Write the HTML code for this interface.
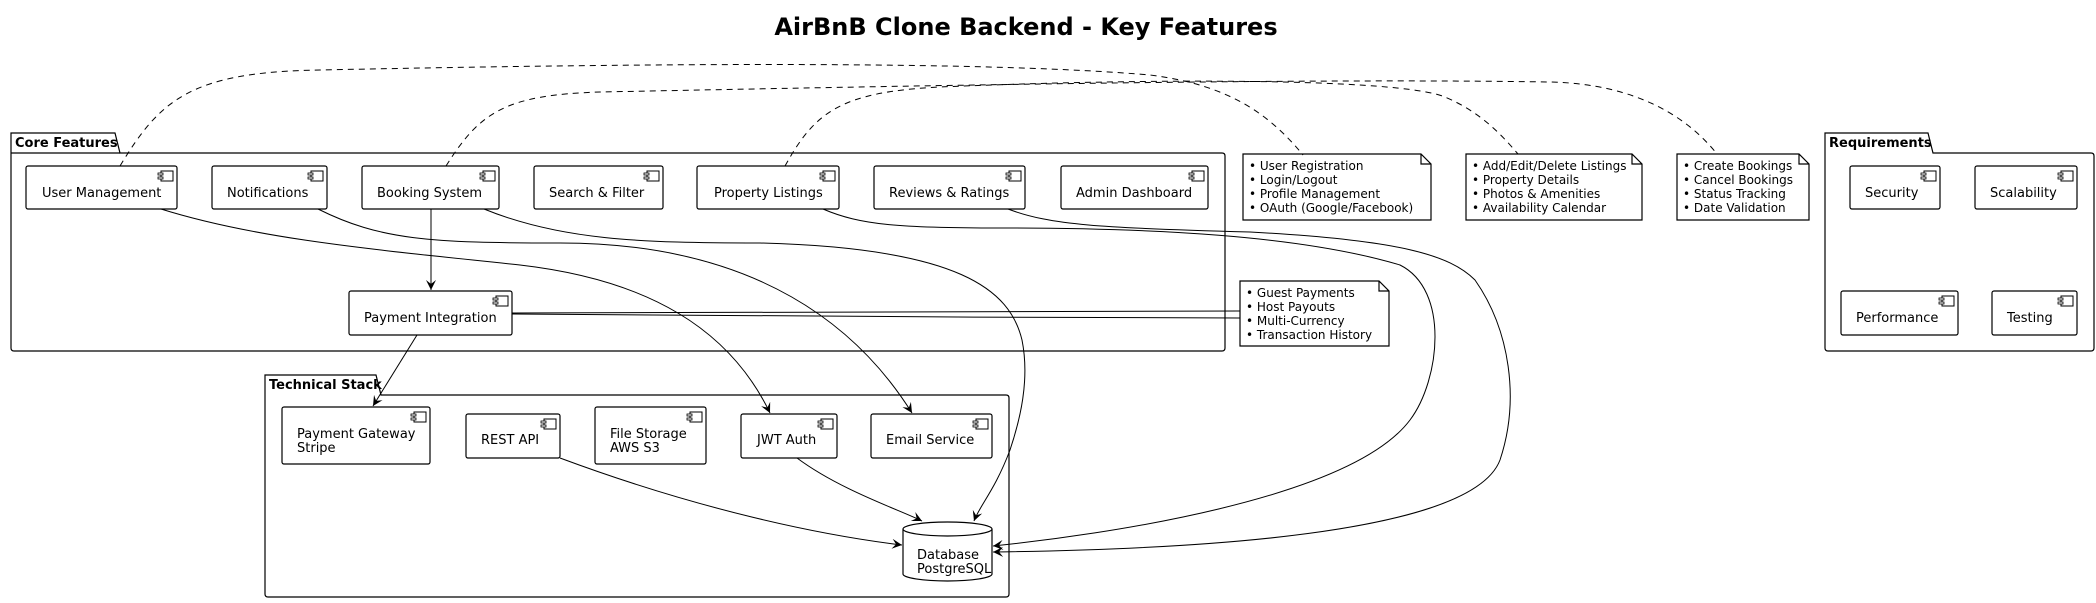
<!DOCTYPE html>
<html><head><meta charset="utf-8"><style>
html,body{margin:0;padding:0;background:#fff;}
svg{display:block;font-family:"DejaVu Sans","Liberation Sans",sans-serif;}
.t{font-size:13px;fill:#000;}
.n{font-size:12px;fill:#000;}
.pk{font-size:13px;font-weight:bold;fill:#000;}
</style></head><body>
<svg width="2096" height="603" viewBox="0 0 2096 603" xmlns="http://www.w3.org/2000/svg">
<defs>
<marker id="a" markerWidth="12" markerHeight="12" refX="10" refY="5" orient="auto" markerUnits="userSpaceOnUse">
<path d="M0,0 L10,5 L0,10 L4,5 Z" fill="#000"/></marker>
<g id="ic"><rect x="0" y="0" width="12" height="10" fill="#fff" stroke="#000" stroke-width="1"/><rect x="-3" y="2" width="5" height="2" fill="#fff" stroke="#000" stroke-width="0.8"/><rect x="-3" y="6" width="5" height="2" fill="#fff" stroke="#000" stroke-width="0.8"/></g>
</defs>
<text x="1026" y="35" text-anchor="middle" font-size="24" font-weight="bold">AirBnB Clone Backend - Key Features</text>

<!-- packages -->
<g fill="none" stroke="#000" stroke-width="1.2">
<path d="M11,153 L11,133 L115,133 L120,153 L1222,153 Q1225,153 1225,156 L1225,348 Q1225,351 1222,351 L14,351 Q11,351 11,348 Z"/>
<path d="M11,153 L120,153"/>
<path d="M1825,153 L1825,133 L1928,133 L1933,153 L2091,153 Q2094,153 2094,156 L2094,348 Q2094,351 2091,351 L1828,351 Q1825,351 1825,348 Z"/>
<path d="M265,395 L265,375 L376,375 L381,395 L1006,395 Q1009,395 1009,398 L1009,594 Q1009,597 1006,597 L268,597 Q265,597 265,594 Z"/>
</g>
<text class="pk" x="15" y="147">Core Features</text>
<text class="pk" x="1829" y="147">Requirements</text>
<text class="pk" x="269" y="389">Technical Stack</text>

<!-- solid connectors -->
<g fill="none" stroke="#000" stroke-width="1">
<path d="M431,209 L431,290" marker-end="url(#a)"/>
<path d="M417,335 L373,406" marker-end="url(#a)"/>
<path d="M161,209 C260,240 380,250 520,265 C650,280 730,330 770,413" marker-end="url(#a)"/>
<path d="M318,209 C380,240 430,243 560,243 C760,243 860,330 912,413" marker-end="url(#a)"/>
<path d="M484,209 C560,240 640,243 760,243 C960,248 1010,290 1022,340 C1030,380 1020,420 1010,450 C995,490 980,505 974,521" marker-end="url(#a)"/>
<path d="M823,209 C860,225 900,228 1000,228 C1150,228 1300,235 1400,265 C1450,290 1440,380 1410,420 C1350,500 1100,535 993,546" marker-end="url(#a)"/>
<path d="M1008,209 C1050,225 1100,228 1250,232 C1400,240 1450,255 1475,280 C1510,330 1520,400 1500,460 C1470,540 1150,550 993,552" marker-end="url(#a)"/>
<path d="M512,313 L1240,311"/>
<path d="M512,314 C700,315 1000,318 1240,318"/>
<path d="M560,458 C700,510 820,535 902,545" marker-end="url(#a)"/>
<path d="M797,458 C840,490 900,510 922,521" marker-end="url(#a)"/>
</g>

<!-- components -->
<g fill="#fff" stroke="#000" stroke-width="1.2">
<rect x="26" y="166" width="151" height="43" rx="2"/>
<rect x="212" y="166" width="115" height="43" rx="2"/>
<rect x="362" y="166" width="137" height="43" rx="2"/>
<rect x="534" y="166" width="129" height="43" rx="2"/>
<rect x="697" y="166" width="142" height="43" rx="2"/>
<rect x="874" y="166" width="151" height="43" rx="2"/>
<rect x="1061" y="166" width="147" height="43" rx="2"/>
<rect x="349" y="291" width="163" height="44" rx="2"/>
<rect x="1850" y="166" width="90" height="43" rx="2"/>
<rect x="1975" y="166" width="102" height="43" rx="2"/>
<rect x="1841" y="291" width="117" height="44" rx="2"/>
<rect x="1992" y="291" width="85" height="44" rx="2"/>
<rect x="282" y="407" width="148" height="57" rx="2"/>
<rect x="466" y="414" width="94" height="44" rx="2"/>
<rect x="595" y="407" width="111" height="57" rx="2"/>
<rect x="741" y="414" width="96" height="44" rx="2"/>
<rect x="871" y="414" width="121" height="44" rx="2"/>
</g>
<use href="#ic" x="161" y="171"/><use href="#ic" x="311" y="171"/><use href="#ic" x="483" y="171"/>
<use href="#ic" x="647" y="171"/><use href="#ic" x="823" y="171"/><use href="#ic" x="1009" y="171"/>
<use href="#ic" x="1192" y="171"/><use href="#ic" x="496" y="296"/>
<use href="#ic" x="1924" y="171"/><use href="#ic" x="2061" y="171"/><use href="#ic" x="1942" y="296"/><use href="#ic" x="2061" y="296"/>
<use href="#ic" x="414" y="412"/><use href="#ic" x="544" y="419"/><use href="#ic" x="690" y="412"/><use href="#ic" x="821" y="419"/><use href="#ic" x="976" y="419"/>

<!-- database -->
<g fill="#fff" stroke="#000" stroke-width="1.2">
<path d="M903,529 L903,574 A44.5,7 0 0 0 992,574 L992,529"/>
<ellipse cx="947.5" cy="529" rx="44.5" ry="7"/>
</g>

<g class="t">
<text x="42" y="197">User Management</text>
<text x="227" y="197">Notifications</text>
<text x="377" y="197">Booking System</text>
<text x="549" y="197">Search &amp; Filter</text>
<text x="714" y="197">Property Listings</text>
<text x="889" y="197">Reviews &amp; Ratings</text>
<text x="1076" y="197">Admin Dashboard</text>
<text x="364" y="322">Payment Integration</text>
<text x="1865" y="197">Security</text>
<text x="1990" y="197">Scalability</text>
<text x="1856" y="322">Performance</text>
<text x="2007" y="322">Testing</text>
<text x="297" y="438">Payment Gateway</text>
<text x="297" y="452">Stripe</text>
<text x="481" y="444">REST API</text>
<text x="610" y="438">File Storage</text>
<text x="610" y="452">AWS S3</text>
<text x="757" y="444">JWT Auth</text>
<text x="886" y="444">Email Service</text>
<text x="917" y="559">Database</text>
<text x="917" y="573">PostgreSQL</text>
</g>

<!-- notes -->
<g fill="#fff" stroke="#000" stroke-width="1.2">
<path d="M1243,154 L1421,154 L1431,164 L1431,220 L1243,220 Z M1421,154 L1421,164 L1431,164"/>
<path d="M1466,154 L1632,154 L1642,164 L1642,220 L1466,220 Z M1632,154 L1632,164 L1642,164"/>
<path d="M1677,154 L1799,154 L1809,164 L1809,220 L1677,220 Z M1799,154 L1799,164 L1809,164"/>
<path d="M1240,281 L1379,281 L1389,291 L1389,346 L1240,346 Z M1379,281 L1379,291 L1389,291"/>
</g>
<g class="n">
<text x="1249" y="170">• User Registration</text>
<text x="1249" y="184">• Login/Logout</text>
<text x="1249" y="198">• Profile Management</text>
<text x="1249" y="212">• OAuth (Google/Facebook)</text>
<text x="1472" y="170">• Add/Edit/Delete Listings</text>
<text x="1472" y="184">• Property Details</text>
<text x="1472" y="198">• Photos &amp; Amenities</text>
<text x="1472" y="212">• Availability Calendar</text>
<text x="1683" y="170">• Create Bookings</text>
<text x="1683" y="184">• Cancel Bookings</text>
<text x="1683" y="198">• Status Tracking</text>
<text x="1683" y="212">• Date Validation</text>
<text x="1246" y="297">• Guest Payments</text>
<text x="1246" y="311">• Host Payouts</text>
<text x="1246" y="325">• Multi-Currency</text>
<text x="1246" y="339">• Transaction History</text>
</g>

<!-- dashed note links -->
<g fill="none" stroke="#000" stroke-width="1" stroke-dasharray="6,5">
<path d="M120,166 C160,100 190,72 320,70 C700,62 1000,62 1150,75 C1230,85 1270,115 1303,155"/>
<path d="M446,166 C480,112 505,95 600,92 C900,86 1300,78 1550,82 C1640,84 1690,120 1717,154"/>
<path d="M785,166 C815,112 840,92 940,87 C1150,78 1400,78 1445,97 C1480,112 1500,133 1518,154"/>
</g>
</svg>
</body></html>
